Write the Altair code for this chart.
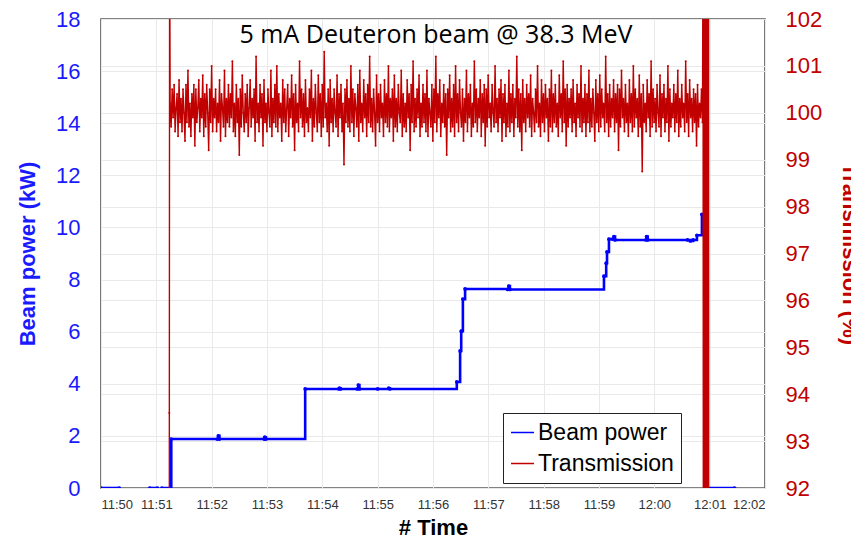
import altair as alt
import pandas as pd

# ---------------- data (time in minutes after 11:50) ----------------
blue_t = [0.0, 0.33,
          0.88, 1.02,
          1.10, 1.27, 2.10, 2.12, 2.14, 2.95, 2.96, 2.98, 3.69, 4.30, 4.31, 4.33,
          4.63, 4.65, 4.67, 5.00, 5.20, 5.22, 6.43, 6.49, 6.51, 6.54, 6.58, 7.35,
          7.37, 7.39, 9.09, 9.13, 9.145, 9.18, 9.25, 9.27, 9.29, 9.85, 9.86, 9.88,
          10.60, 10.65, 10.70, 10.77, 10.86, 10.92, 11.45]
blue_v = [0.0, 0.0,
          0.0, 0.0,
          0.0, 1.88, 1.88, 2.00, 1.88, 1.88, 1.95, 1.88, 3.80, 3.80, 3.83, 3.80,
          3.80, 3.95, 3.80, 3.80, 3.83, 3.80, 4.07, 5.26, 6.02, 7.25, 7.64, 7.62,
          7.75, 7.62, 8.13, 8.63, 9.06, 9.55, 9.55, 9.65, 9.52, 9.52, 9.65, 9.52,
          9.52, 9.48, 9.52, 9.70, 10.50, 0.0, 0.0]
blue_seg = [0, 0, 1, 1] + [2] * 43

trans_pre_t = [0.0, 1.23, 1.235, 1.24]
trans_pre_v = [0.0, 0.0, 93.6, 104.0]

noise_start, noise_end = 1.25, 10.87
trans_noise = [
    100.2, 99.7, 100.5, 99.9, 100.6, 99.6, 100.1, 100.4, 99.5, 100.7, 99.8, 100.3, 99.6, 100.5, 100.0,
    99.4, 100.6, 99.8, 100.9, 99.7, 100.2, 99.5, 100.4, 99.9, 100.6, 99.3, 100.5, 99.8, 100.1, 100.7,
    99.6, 100.3, 99.9, 100.8, 99.5, 100.4, 99.7, 100.6, 100.0, 99.2, 100.5, 99.8, 101.0, 99.6, 100.3,
    99.9, 100.5, 99.6, 100.2, 99.8, 100.7, 99.4, 100.4, 100.1, 99.7, 100.9, 99.5, 100.3, 99.8, 100.6,
    99.7, 100.4, 99.9, 101.1, 99.6, 100.2, 99.5, 100.6, 99.8, 100.3, 99.1, 100.5, 99.7, 100.8, 100.0,
    99.6, 100.4, 99.8, 100.6, 99.5, 100.1, 100.7, 99.7, 100.3, 99.9, 100.5, 99.4, 101.2, 99.8, 100.2,
    99.6, 100.6, 99.9, 100.4, 99.3, 100.7, 99.8, 100.2, 99.6, 100.5, 100.0, 99.7, 100.9, 99.5, 100.3,
    99.8, 100.6, 99.7, 101.0, 99.6, 100.4, 99.9, 100.2, 99.4, 100.7, 99.8, 100.5, 99.6, 100.1, 100.6,
    99.5, 100.3, 99.9, 100.8, 99.7, 100.4, 99.2, 100.6, 99.8, 100.2, 99.6, 101.1, 99.9, 100.5, 99.7,
    100.4, 99.5, 100.7, 99.8, 100.1, 99.6, 100.5, 99.9, 100.9, 99.4, 100.3, 99.7, 100.6, 100.0, 99.6,
    100.8, 99.8, 100.4, 99.5, 100.6, 99.7, 101.3, 99.9, 100.2, 99.6, 100.5, 99.3, 100.7, 99.8, 100.3,
    99.6, 100.5, 100.0, 99.7, 100.8, 99.5, 100.4, 99.9, 100.6, 99.6, 100.2, 98.9, 100.5, 99.8, 100.7,
    99.7, 100.3, 99.6, 101.0, 99.8, 100.5, 99.5, 100.4, 100.1, 99.7, 100.6, 99.4, 100.9, 99.8, 100.2,
    99.6, 100.7, 99.9, 100.4, 99.5, 100.6, 99.8, 101.2, 99.7, 100.3, 99.6, 100.5, 100.0, 99.3, 100.8,
    99.8, 100.4, 99.6, 100.6, 99.9, 100.2, 99.5, 100.7, 99.8, 100.4, 99.7, 101.0, 99.6, 100.3, 99.9,
    100.5, 99.4, 100.8, 99.7, 100.3, 99.6, 100.6, 100.0, 99.8, 100.9, 99.5, 100.4, 99.7, 100.2, 99.6,
    100.7, 99.9, 100.4, 99.2, 100.6, 99.8, 101.1, 99.6, 100.3, 99.7, 100.5, 99.9, 100.8, 99.5, 100.2,
    99.7, 100.6, 99.8, 100.4, 99.6, 100.9, 99.5, 100.3, 100.0, 99.7, 100.6, 99.4, 100.5, 99.8, 101.2,
    99.6, 100.4, 99.9, 100.7, 99.5, 100.2, 99.8, 100.6, 99.7, 100.4, 99.1, 100.5, 99.9, 100.8, 99.6,
    100.3, 99.7, 100.6, 99.5, 101.0, 99.8, 100.4, 99.6, 100.7, 100.0, 99.7, 100.5, 99.4, 100.3, 99.8,
    100.9, 99.6, 100.4, 99.9, 100.6, 99.5, 100.2, 99.7, 101.1, 99.8, 100.5, 99.6, 100.3, 99.9, 100.7,
    99.5, 100.4, 99.8, 100.6, 99.3, 100.5, 99.7, 100.8, 99.9, 100.2, 99.6, 100.6, 100.0, 99.7, 101.0,
    99.8, 100.3, 99.6, 100.5, 99.9, 100.7, 99.4, 100.4, 99.8, 100.6, 99.5, 100.2, 99.7, 100.9, 99.6,
    100.4, 99.8, 100.6, 99.5, 100.3, 99.9, 101.2, 99.7, 100.5, 99.6, 100.4, 99.2, 100.7, 99.8, 100.3,
    99.6, 100.6, 99.9, 100.4, 99.7, 100.8, 99.5, 100.3, 100.0, 99.6, 100.5, 99.8, 101.0, 99.7, 100.2,
    99.5, 100.7, 99.8, 100.4, 99.6, 100.6, 99.9, 100.3, 99.4, 100.5, 99.7, 100.9, 99.6, 100.4, 99.8,
    100.6, 99.7, 100.2, 99.5, 100.8, 99.9, 100.4, 99.6, 101.1, 99.8, 100.5, 99.3, 100.6, 99.7, 100.3,
    99.9, 100.5, 99.6, 100.7, 99.8, 100.2, 99.5, 100.6, 99.9, 100.4, 99.7, 101.0, 99.6, 100.3, 99.8,
    100.6, 99.5, 100.4, 99.8, 100.9, 99.6, 100.3, 99.7, 100.5, 100.0, 99.4, 100.7, 99.8, 100.4, 99.6,
    100.8, 99.7, 100.5, 99.9, 100.2, 99.6, 101.2, 99.8, 100.4, 99.5, 100.6, 99.7, 100.3, 99.9, 100.7,
    99.6, 100.4, 99.8, 100.6, 99.2, 100.5, 99.7, 100.9, 99.9, 100.3, 99.6, 100.6, 99.8, 100.2, 99.5,
    100.7, 99.8, 100.4, 99.6, 101.0, 99.7, 100.5, 99.9, 100.3, 99.5, 100.8, 99.7, 100.4, 98.75, 100.6,
    99.8, 100.2, 99.6, 100.7, 99.9, 100.4, 99.5, 101.1, 99.7, 100.5, 99.8, 100.3, 99.6, 100.6, 100.0,
    99.7, 100.8, 99.5, 100.4, 99.9, 100.6, 99.6, 100.3, 99.8, 101.0, 99.4, 100.5, 99.7, 100.2, 99.9,
    100.6, 99.6, 100.4, 99.8, 100.9, 99.5, 100.3, 99.7, 100.6, 99.9, 100.2, 99.6, 101.1, 99.8, 100.4,
    99.5, 100.7, 99.9, 100.3, 99.6, 100.5, 99.8, 100.4, 99.3, 100.6, 99.7, 100.2, 99.9, 100.5, 99.8,
]

trans_post_t = [10.88, 10.89, 10.90, 10.91, 10.92, 10.93, 10.94, 10.95, 10.96, 10.97, 10.98, 11.0, 12.0]
trans_post_v = [104, 80, 104, 80, 104, 80, 104, 80, 104, 80, 104, 0, 0]

x_ticks = list(range(13))
blue_ticks = list(range(0, 19, 2))
red_ticks = list(range(92, 103))

# ---------------- tables ----------------
n = len(trans_noise)
noise_t = [noise_start + i * (noise_end - noise_start) / (n - 1) for i in range(n)]

blue_df = pd.DataFrame({"t": blue_t, "v": blue_v, "seg": blue_seg, "series": "Beam power"})
red_df = pd.DataFrame({
    "t": trans_pre_t + noise_t + trans_post_t,
    "v": trans_pre_v + trans_noise + trans_post_v,
    "series": "Transmission",
})

BLUE = "#0000ff"
BLUE_TXT = "#1a1aff"
RED = "#c00000"
FONT = "Liberation Sans"
GRID = "#e9e9e9"

color = alt.Color(
    "series:N",
    scale=alt.Scale(domain=["Beam power", "Transmission"], range=[BLUE, RED]),
    legend=alt.Legend(
        orient="none", legendX=402, legendY=394, title=None,
        strokeColor="#222222", fillColor="white", padding=7, cornerRadius=0,
        labelFontSize=23, labelFont=FONT, labelColor="black",
        symbolType="stroke", symbolSize=530, symbolStrokeWidth=1.5,
        rowPadding=6, labelOffset=3,
    ),
)

x_axis = alt.Axis(
    values=x_ticks, grid=True, gridColor=GRID, ticks=False, domain=False,
    labelExpr="datum.value < 10 ? '11:' + (50 + datum.value) : '12:0' + (datum.value - 10)",
    labelFontSize=13, labelFont=FONT, labelColor="#333333", labelPadding=10,
    title="# Time", titleFontSize=22, titleFont=FONT, titleFontWeight="bold",
    titleColor="black", titlePadding=6,
)
x_enc = alt.X("t:Q", scale=alt.Scale(domain=[0, 12], nice=False, zero=False), axis=x_axis)

blue_layer = alt.Chart(blue_df).mark_line(
    interpolate="step-after", strokeWidth=2.6, clip=True,
    point=alt.OverlayMarkDef(size=14, filled=True),
).encode(
    x=x_enc,
    y=alt.Y("v:Q", scale=alt.Scale(domain=[0, 18], nice=False),
            axis=alt.Axis(orient="left", values=blue_ticks, grid=True, gridColor=GRID,
                          ticks=False, domain=False, labelFontSize=22, labelFont=FONT,
                          labelColor=BLUE_TXT, labelPadding=21,
                          title="Beam power (kW)", titleFontSize=22, titleFont=FONT,
                          titleFontWeight="bold", titleColor=BLUE_TXT, titlePadding=16)),
    color=color,
    detail="seg:N",
    order="t:Q",
)

red_layer = alt.Chart(red_df).mark_line(
    strokeWidth=1.4, clip=True,
    point=alt.OverlayMarkDef(size=4, filled=True),
).encode(
    x=x_enc,
    y=alt.Y("v:Q", scale=alt.Scale(domain=[92, 102], nice=False, zero=False),
            axis=alt.Axis(orient="right", values=red_ticks, grid=True, gridColor=GRID,
                          ticks=False, domain=False, labelFontSize=22, labelFont=FONT,
                          labelColor=RED, labelPadding=20,
                          title="Transmission (%)", titleFontSize=22, titleFont=FONT,
                          titleFontWeight="bold", titleColor=RED, titlePadding=16)),
    color=color,
    order="t:Q",
)

title_layer = alt.Chart(pd.DataFrame({"a": [0]})).mark_text(
    text="5 mA Deuteron beam @ 38.3 MeV", font="Open Sans", fontSize=25,
    color="black", baseline="alphabetic", align="center",
).encode(x=alt.value(335), y=alt.value(24))

chart = alt.layer(blue_layer, red_layer, title_layer).resolve_scale(
    y="independent"
).properties(
    width=664, height=469,
    autosize=alt.AutoSizeParams(type="none"),
    padding={"left": 101, "top": 19, "right": 86, "bottom": 57},
    background="white",
).configure_view(stroke="#5a5a5a", strokeWidth=1.6)

chart.save("out.html", embed_options={"renderer": "svg", "actions": False})
